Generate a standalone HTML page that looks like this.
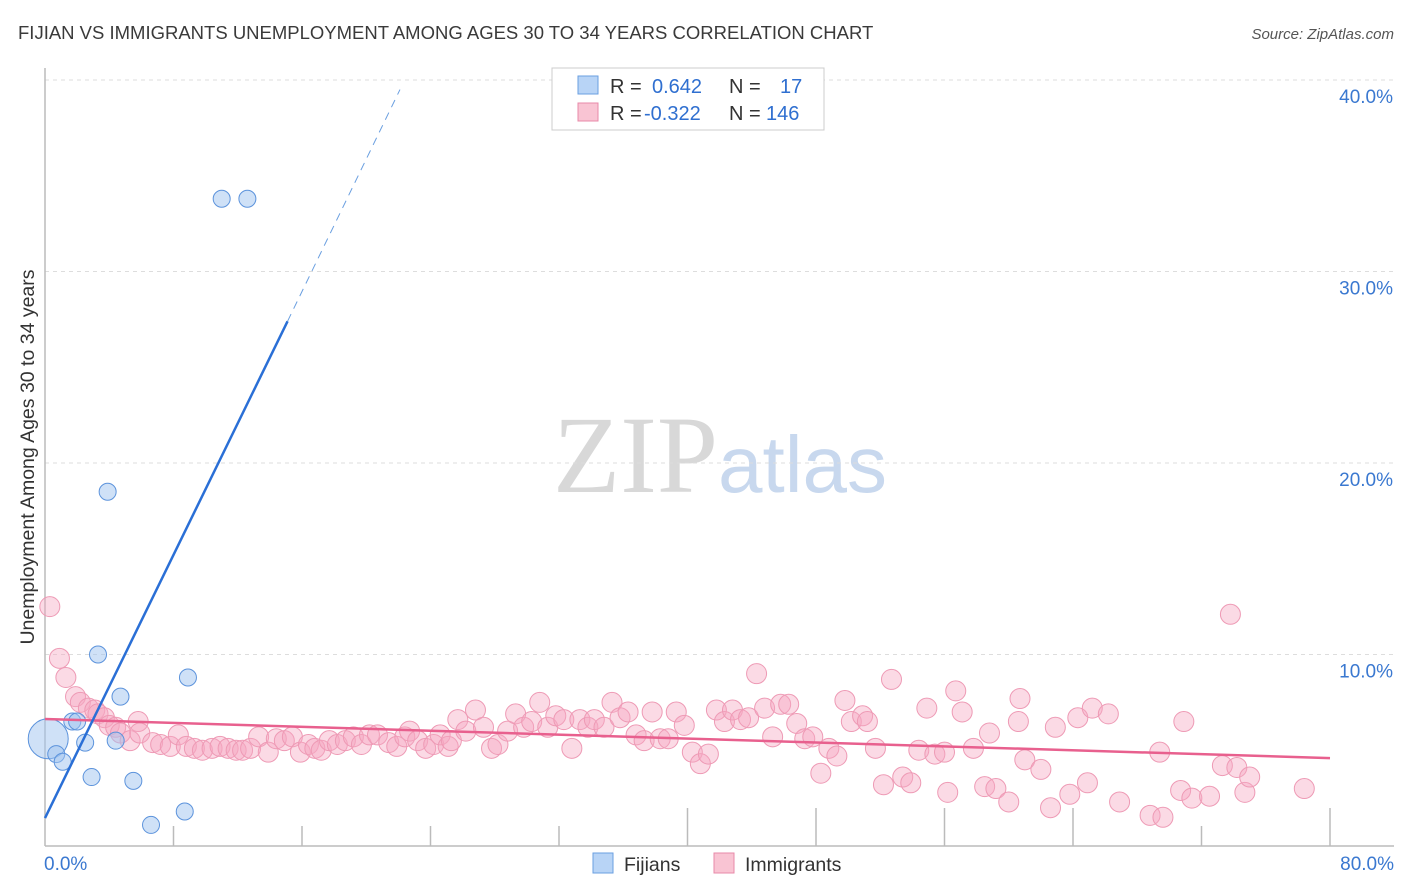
<!DOCTYPE html>
<html><head><meta charset="utf-8">
<style>
body{margin:0;background:#fff;font-family:"Liberation Sans",sans-serif;}
#wrap{position:relative;width:1406px;height:892px;overflow:hidden;}
</style></head>
<body>
<div id="wrap">
<svg id="chart" width="1406" height="892" xmlns="http://www.w3.org/2000/svg">
<text x="18" y="39" font-size="18.5" fill="#3a3a3a">FIJIAN VS IMMIGRANTS UNEMPLOYMENT AMONG AGES 30 TO 34 YEARS CORRELATION CHART</text>
<text x="1394" y="39" font-size="15" fill="#555" font-style="italic" text-anchor="end">Source: ZipAtlas.com</text>
<text x="553" y="492" font-size="110" fill="#d8d8d8" font-family="Liberation Serif,serif">ZIP</text>
<text x="718" y="492" font-size="80" fill="#c8d8ee">atlas</text>
<text transform="translate(34,457) rotate(-90)" font-size="19.5" fill="#333" text-anchor="middle">Unemployment Among Ages 30 to 34 years</text>
<g id="grid"></g><g id="axes"></g><g id="pinkPts"></g><g id="bluePts"></g><g id="lines"></g>
<g>
<rect x="552" y="68" width="272" height="62" fill="#fff" stroke="#ccc"/>
<rect x="578" y="76" width="20" height="18" fill="#b8d4f6" stroke="#6a9fe0"/>
<rect x="578" y="103" width="20" height="18" fill="#f9c4d3" stroke="#e88aa8"/>
<text x="610" y="93" font-size="20" fill="#333">R = <tspan x="652" fill="#2f6fd0">0.642</tspan><tspan x="729">N = </tspan><tspan x="780" fill="#2f6fd0">17</tspan></text>
<text x="610" y="120" font-size="20" fill="#333">R = <tspan x="644" fill="#2f6fd0">-0.322</tspan><tspan x="729">N = </tspan><tspan x="766" fill="#2f6fd0">146</tspan></text>
</g>
<g>
<rect x="593" y="853" width="20" height="20" fill="#b8d4f6" stroke="#6a9fe0"/>
<text x="624" y="871" font-size="19.5" fill="#333">Fijians</text>
<rect x="714" y="853" width="20" height="20" fill="#f9c4d3" stroke="#e88aa8"/>
<text x="745" y="871" font-size="19.5" fill="#333">Immigrants</text>
</g>
</svg>
</div>
<script>
const yTicks=[10,20,30,40];
const yTickLabels=["10.0%","20.0%","30.0%","40.0%"];
const xTickVals=[0,8,16,24,32,40,48,56,64,72,80];
const xLabels=["0.0%","80.0%"];
const fijX=[0.2,0.7,1.1,1.7,2.0,2.5,2.9,3.3,3.9,4.4,4.7,5.5,6.6,8.7,8.9,11.0,12.6];
const fijY=[5.6,4.8,4.4,6.5,6.5,5.4,3.6,10.0,18.5,5.5,7.8,3.4,1.1,1.8,8.8,33.8,33.8];
const immX=[0.3,0.9,1.3,1.9,2.2,2.7,3.1,3.3,3.7,4.0,4.4,4.7,5.3,5.8,5.9,6.7,7.2,7.8,8.3,8.8,9.3,9.8,10.4,10.9,11.4,11.9,12.3,12.8,13.3,13.9,14.4,14.9,15.4,15.9,16.4,16.8,17.2,17.7,18.2,18.7,19.2,19.7,20.2,20.7,21.4,21.9,22.4,22.7,23.2,23.7,24.2,24.6,25.1,25.3,25.7,26.2,26.8,27.3,27.8,28.2,28.8,29.3,29.8,30.3,30.8,31.3,31.8,32.3,32.8,33.3,33.8,34.2,34.8,35.3,35.8,36.3,36.8,37.3,37.8,38.3,38.8,39.3,39.8,40.3,40.8,41.3,41.8,42.3,42.8,43.3,43.8,44.3,44.8,45.3,45.8,46.3,46.8,47.3,47.8,48.3,48.8,49.3,49.8,50.2,50.9,51.2,51.7,52.2,52.7,53.4,53.9,54.4,54.9,55.4,56.0,56.2,56.7,57.1,57.8,58.5,58.8,59.2,60.0,60.7,60.6,61.0,62.0,62.6,62.9,63.8,64.3,64.9,65.2,66.2,66.9,68.8,69.4,69.6,70.7,71.4,72.5,73.3,73.8,74.2,74.7,75.0,78.4,70.9];
const immY=[12.5,9.8,8.8,7.8,7.5,7.2,7.1,6.9,6.7,6.3,6.2,5.9,5.5,6.5,5.9,5.4,5.3,5.2,5.8,5.2,5.1,5.0,5.1,5.2,5.1,5.0,5.0,5.1,5.7,4.9,5.6,5.5,5.7,4.9,5.3,5.1,5.0,5.5,5.3,5.5,5.7,5.3,5.8,5.8,5.4,5.2,5.7,6.0,5.5,5.1,5.3,5.8,5.2,5.5,6.6,6.0,7.1,6.2,5.1,5.3,6.0,6.9,6.2,6.5,7.5,6.2,6.8,6.6,5.1,6.6,6.2,6.6,6.2,7.5,6.7,7.0,5.8,5.5,7.0,5.6,5.6,7.0,6.3,4.9,4.3,4.8,7.1,6.5,7.1,6.6,6.7,9.0,7.2,5.7,7.4,7.4,6.4,5.6,5.7,3.8,5.1,4.7,7.6,6.5,6.8,6.5,5.1,3.2,8.7,3.6,3.3,5.0,7.2,4.8,4.9,2.8,8.1,7.0,5.1,3.1,5.9,3.0,2.3,7.7,6.5,4.5,4.0,2.0,6.2,2.7,6.7,3.3,7.2,6.9,2.3,1.6,4.9,1.5,2.9,2.5,2.6,4.2,12.1,4.1,2.8,3.6,3.0,6.5];
const blueLine=[[0,1.46],[15.1,27.4]];
const blueDash=[[15.1,27.4],[22.1,39.5]];
const pinkLine=[[0,6.63],[80,4.59]];
const NS="http://www.w3.org/2000/svg";
const X0=45,X1=1330,Y0=846,Y40=80;
function sx(v){return X0+(X1-X0)*v/80;}
function sy(v){return Y0-(Y0-Y40)*v/40;}
function mk(tag,attrs,parent){const e=document.createElementNS(NS,tag);for(const k in attrs)e.setAttribute(k,attrs[k]);parent.appendChild(e);return e;}
const grid=document.getElementById('grid'),axes=document.getElementById('axes');
yTicks.forEach((t,i)=>{
  const l=mk('line',{x1:X0,x2:1394,y1:sy(t),y2:sy(t),stroke:'#ddd','stroke-dasharray':'4,4'},grid);
  
  
  const tx=mk('text',{x:1393,y:sy(t)+23,'font-size':19,fill:'#3a78d0','text-anchor':'end'},axes);
  tx.textContent=yTickLabels[i];
  
  
});
const ax=mk('line',{x1:X0,x2:X1+64,y1:Y0,y2:Y0,stroke:'#bbb','stroke-width':1.5},axes);


const ay=mk('line',{x1:X0,x2:X0,y1:68,y2:Y0,stroke:'#bbb','stroke-width':1.5},axes);


xTickVals.forEach(t=>{
  const tall=(t>=40 && t!==72);
  const l=mk('line',{x1:sx(t),x2:sx(t),y1:Y0,y2:(t==0?Y0:(tall?Y0-38:Y0-20)),stroke:'#bbb','stroke-width':1.5},axes);
  
  
});
[[0,'start',44],[80,'end',1394]].forEach((d,i)=>{
  const tx=mk('text',{x:d[2],y:870,'font-size':19,fill:'#3a78d0','text-anchor':d[1]},axes);
  tx.textContent=xLabels[i];
  
  
});
const pp=document.getElementById('pinkPts');
immX.forEach((x,i)=>{
  const c=mk('circle',{cx:sx(x),cy:sy(immY[i]),r:10,fill:'rgba(246,168,192,0.42)',stroke:'#ee9ab5','stroke-width':1},pp);
  
  
});
const bp=document.getElementById('bluePts');
fijX.forEach((x,i)=>{
  const c=mk('circle',{cx:sx(x),cy:sy(fijY[i]),r:(i==0?20:8.5),fill:'rgba(160,196,240,0.5)',stroke:'#5c93dc','stroke-width':1},bp);
  
  
});
const lg=document.getElementById('lines');
const l1=mk('line',{x1:sx(pinkLine[0][0]),y1:sy(pinkLine[0][1]),x2:sx(pinkLine[1][0]),y2:sy(pinkLine[1][1]),stroke:'#e8608e','stroke-width':2.5},lg);


const l2=mk('line',{x1:sx(blueLine[0][0]),y1:sy(blueLine[0][1]),x2:sx(blueLine[1][0]),y2:sy(blueLine[1][1]),stroke:'#2a6fd6','stroke-width':2.5},lg);


const l3=mk('line',{x1:sx(blueDash[0][0]),y1:sy(blueDash[0][1]),x2:sx(blueDash[1][0]),y2:sy(blueDash[1][1]),stroke:'#6a9fe0','stroke-width':1,'stroke-dasharray':'8,6'},lg);


</script>
</body></html>
